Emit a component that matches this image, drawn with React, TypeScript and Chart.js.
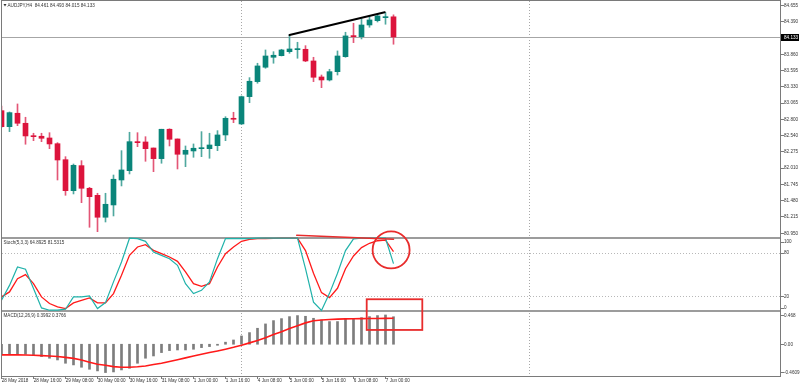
import React, { useEffect, useRef } from 'react';
import { Chart, registerables } from 'chart.js';

Chart.register(...registerables);

// ---------------- data ----------------
const symbolName = 'AUDJPY,H4';

const categories = [
  '28 May 00:00', '28 May 04:00', '28 May 08:00', '28 May 12:00', '28 May 16:00', '28 May 20:00',
  '29 May 00:00', '29 May 04:00', '29 May 08:00', '29 May 12:00', '29 May 16:00', '29 May 20:00',
  '30 May 00:00', '30 May 04:00', '30 May 08:00', '30 May 12:00', '30 May 16:00', '30 May 20:00',
  '31 May 00:00', '31 May 04:00', '31 May 08:00', '31 May 12:00', '31 May 16:00', '31 May 20:00',
  '1 Jun 00:00', '1 Jun 04:00', '1 Jun 08:00', '1 Jun 12:00', '1 Jun 16:00', '1 Jun 20:00',
  '4 Jun 00:00', '4 Jun 04:00', '4 Jun 08:00', '4 Jun 12:00', '4 Jun 16:00', '4 Jun 20:00',
  '5 Jun 00:00', '5 Jun 04:00', '5 Jun 08:00', '5 Jun 12:00', '5 Jun 16:00', '5 Jun 20:00',
  '6 Jun 00:00', '6 Jun 04:00', '6 Jun 08:00', '6 Jun 12:00', '6 Jun 16:00', '6 Jun 20:00',
  '7 Jun 00:00', '7 Jun 04:00',
];

const openValues = [
  82.935, 82.675, 82.893, 82.730, 82.528, 82.519, 82.491, 82.398, 82.138, 81.634,
  82.041, 81.673, 81.559, 81.202, 81.402, 81.808, 81.959, 82.431, 82.426, 82.328,
  82.155, 82.633, 82.475, 82.226, 82.280, 82.317, 82.317, 82.366, 82.540, 82.811,
  82.719, 83.163, 83.407, 83.641, 83.803, 83.829, 83.894, 83.927, 83.933, 83.743,
  83.483, 83.434, 83.569, 83.813, 84.155, 84.138, 84.328, 84.398, 84.447, 84.461,
];
const highValues = [
  83.011, 82.914, 83.044, 82.828, 82.568, 82.568, 82.577, 82.415, 82.187, 82.068,
  82.122, 81.689, 81.592, 81.592, 81.889, 82.285, 82.584, 82.577, 82.512, 82.328,
  82.633, 82.640, 82.475, 82.361, 82.394, 82.594, 82.568, 82.610, 82.837, 82.909,
  83.174, 83.472, 83.706, 83.922, 83.894, 83.933, 84.166, 84.047, 83.992, 83.803,
  83.515, 83.608, 83.906, 84.210, 84.356, 84.426, 84.463, 84.507, 84.528, 84.493,
];
const lowValues = [
  82.662, 82.594, 82.691, 82.389, 82.447, 82.431, 82.317, 81.808, 81.559, 81.581,
  81.439, 81.039, 80.968, 81.125, 81.223, 81.711, 81.906, 82.350, 82.112, 81.943,
  82.080, 82.361, 81.987, 82.024, 82.177, 82.187, 82.161, 82.285, 82.447, 82.740,
  82.710, 83.065, 83.381, 83.624, 83.706, 83.824, 83.868, 83.787, 83.732, 83.407,
  83.309, 83.418, 83.515, 83.803, 84.041, 84.101, 84.291, 84.377, 84.340, 84.015,
];
const closeValues = [
  82.675, 82.903, 82.730, 82.524, 82.512, 82.486, 82.394, 82.133, 81.634, 82.047,
  81.673, 81.537, 81.202, 81.413, 81.820, 81.971, 82.431, 82.415, 82.317, 82.155,
  82.633, 82.470, 82.226, 82.291, 82.324, 82.333, 82.377, 82.540, 82.811, 82.795,
  83.163, 83.413, 83.662, 83.824, 83.836, 83.922, 83.938, 83.938, 83.743, 83.478,
  83.434, 83.569, 83.824, 84.150, 84.138, 84.328, 84.410, 84.475, 84.461, 84.133,
];

const stochMain = [
  14.5, 35.0, 60.4, 57.2, 30.6, 4.0, 0.8, 0.8, 2.2, 19.1,
  19.1, 20.5, 3.1, 11.3, 39.8, 67.3, 100, 99.4, 95.7, 81.0,
  76.4, 71.8, 62.6, 37.4, 23.7, 28.2, 39.8, 71.8, 99.4, 99.4,
  99.4, 99.4, 100, 100, 100, 100, 100, 100, 58.0, 12.0,
  0.5, 24.0, 51.7, 83.0, 99.0, 100, 100, 100, 100, 64.8925,
];
const stochSignal = [
  19.1, 26.0, 44.3, 49.8, 37.4, 19.1, 10.0, 5.4, 3.1, 10.9,
  14.5, 17.8, 10.9, 10.9, 23.7, 48.9, 76.4, 87.9, 91.0, 83.3,
  78.7, 74.1, 68.1, 53.5, 37.4, 33.8, 37.4, 60.4, 78.7, 87.9,
  95.7, 98.4, 99.4, 99.6, 99.8, 100, 100, 100, 83.0, 51.7,
  25.0, 18.2, 31.0, 58.0, 75.5, 87.0, 93.0, 96.5, 97.3, 81.5315,
];

const macdHist = [
  -0.145, -0.145, -0.145, -0.145, -0.155, -0.179, -0.203, -0.228, -0.276, -0.300,
  -0.334, -0.363, -0.387, -0.411, -0.402, -0.373, -0.349, -0.276, -0.203, -0.170,
  -0.121, -0.092, -0.083, -0.083, -0.073, -0.049, -0.034, -0.015, 0.030, 0.062,
  0.120, 0.169, 0.232, 0.295, 0.343, 0.372, 0.401, 0.416, 0.406, 0.377,
  0.353, 0.329, 0.329, 0.367, 0.367, 0.386, 0.401, 0.416, 0.425, 0.3992,
];
const macdSignal = [
  -0.155, -0.155, -0.155, -0.157, -0.160, -0.165, -0.170, -0.178, -0.190, -0.205,
  -0.230, -0.260, -0.290, -0.305, -0.325, -0.334, -0.333, -0.327, -0.315, -0.295,
  -0.275, -0.250, -0.225, -0.198, -0.170, -0.145, -0.120, -0.097, -0.072, -0.045,
  -0.015, 0.020, 0.055, 0.095, 0.140, 0.180, 0.230, 0.270, 0.310, 0.340,
  0.352, 0.360, 0.365, 0.368, 0.370, 0.372, 0.373, 0.374, 0.375, 0.3766,
];

const xTickBars = [0, 4, 8, 12, 16, 20, 24, 28, 32, 36, 40, 44, 48];
const xTickLabels = [
  '28 May 2018', '28 May 16:00', '29 May 08:00', '30 May 00:00', '30 May 16:00',
  '31 May 08:00', '1 Jun 00:00', '1 Jun 16:00', '4 Jun 08:00', '5 Jun 00:00',
  '5 Jun 16:00', '6 Jun 08:00', '7 Jun 00:00',
];
const priceTicks = [84.655, 84.39, 83.86, 83.595, 83.33, 83.065, 82.8, 82.54, 82.275, 82.01, 81.745, 81.48, 81.215, 80.95];
const stochTicks = [100, 80, 20, 0];
const stochLevels = [80, 20];
const macdTicks = [0.468, 0, -0.4609];
const macdTickLabels = ['0.468', '0.00', '-0.4609'];
const periodSeparators = [30, 66];

// visible value ranges of the three panes
const priceRange = [80.881, 84.718];
const stochRange = [0, 100];
const macdRange = [-0.4609, 0.468];

// hand-drawn annotations (bar index, value)
const trendLinePoints = [[36, 84.166], [47.9, 84.535]];
const stochMarkLine = [[36.9, 104], [49, 98.5]];
const stochCircleCenter = [48.7, 83.8];
const macdBoxCorners = [[45.65, 0.653], [52.6, 0.2075]];

// ---------------- layout / style ----------------
const AREA = { left: 2, top: 1, right: 780, bottom: 376 };
const MAIN_BAND = { top: 1, bottom: 237 };
const STOCH_BAND = { top: 238.2, bottom: 310.8 };
const MACD_BAND = { top: 312, bottom: 376 };
const BAR_SPACING = 8;
const X_MIN = 0.0625;

const BULL = '#0a857a';
const BEAR = '#dc143c';
const BULL_WICK = '#4fa89f';
const BEAR_WICK = '#e35676';
const FONT = '4.6px "Liberation Sans", Arial, sans-serif';
const TEXT = '#333333';
const ANNOT_RED = '#e82c2c';

function fitScale(range: number[], band: { top: number; bottom: number }) {
  const [lo, hi] = range;
  const upp = (hi - lo) / (band.bottom - band.top);
  return { min: lo - (AREA.bottom - band.bottom) * upp, max: hi + (band.top - AREA.top) * upp };
}

const overlayPlugin = {
  id: 'mt4Overlay',
  beforeDatasetsDraw(chart: any) {
    const { ctx, scales } = chart;
    const xs = scales.x, yP = scales.yPrice, yS = scales.yStoch;
    ctx.save();
    ctx.lineWidth = 1;
    // stochastic levels
    ctx.strokeStyle = '#b8b8b8';
    ctx.setLineDash([1, 2]);
    for (const lv of stochLevels) {
      const y = Math.round(yS.getPixelForValue(lv)) + 0.5;
      ctx.beginPath(); ctx.moveTo(AREA.left, y); ctx.lineTo(AREA.right, y); ctx.stroke();
    }
    // period separators
    ctx.strokeStyle = '#a8a8a8';
    for (const b of periodSeparators) {
      const x = Math.round(xs.getPixelForValue(b) - 0.5) + 0.5;
      ctx.beginPath(); ctx.moveTo(x, AREA.top); ctx.lineTo(x, AREA.bottom); ctx.stroke();
    }
    ctx.setLineDash([]);
    // last price line
    const lp = closeValues[closeValues.length - 1];
    const py = Math.round(yP.getPixelForValue(lp)) + 0.5;
    ctx.strokeStyle = '#a6a6a6';
    ctx.beginPath(); ctx.moveTo(AREA.left, py); ctx.lineTo(AREA.right, py); ctx.stroke();
    // pane separators
    ctx.fillStyle = '#9c9c9c';
    ctx.fillRect(AREA.left, MAIN_BAND.bottom, AREA.right - AREA.left, 2);
    ctx.fillRect(AREA.left, STOCH_BAND.bottom - 0.8, AREA.right - AREA.left, 2);
    ctx.restore();
  },
  afterDatasetsDraw(chart: any) {
    const { ctx, scales } = chart;
    const xs = scales.x, yP = scales.yPrice, yS = scales.yStoch, yM = scales.yMacd;
    ctx.save();

    // annotations
    ctx.lineCap = 'round';
    ctx.strokeStyle = '#000000';
    ctx.lineWidth = 2;
    ctx.beginPath();
    ctx.moveTo(xs.getPixelForValue(trendLinePoints[0][0]), yP.getPixelForValue(trendLinePoints[0][1]));
    ctx.lineTo(xs.getPixelForValue(trendLinePoints[1][0]), yP.getPixelForValue(trendLinePoints[1][1]));
    ctx.stroke();

    ctx.strokeStyle = ANNOT_RED;
    ctx.lineWidth = 1.5;
    ctx.beginPath();
    ctx.moveTo(xs.getPixelForValue(stochMarkLine[0][0]), yS.getPixelForValue(stochMarkLine[0][1]));
    ctx.lineTo(xs.getPixelForValue(stochMarkLine[1][0]), yS.getPixelForValue(stochMarkLine[1][1]));
    ctx.stroke();

    ctx.lineWidth = 1.8;
    ctx.beginPath();
    ctx.arc(xs.getPixelForValue(stochCircleCenter[0]), yS.getPixelForValue(stochCircleCenter[1]), 18.5, 0, Math.PI * 2);
    ctx.stroke();

    const bx1 = xs.getPixelForValue(macdBoxCorners[0][0]);
    const by1 = yM.getPixelForValue(macdBoxCorners[0][1]);
    const bx2 = xs.getPixelForValue(macdBoxCorners[1][0]);
    const by2 = yM.getPixelForValue(macdBoxCorners[1][1]);
    ctx.lineWidth = 1.8;
    ctx.strokeRect(bx1, by1, bx2 - bx1, by2 - by1);

    // frame
    ctx.fillStyle = '#7a7a7a';
    ctx.fillRect(AREA.left - 1, 0, AREA.right - AREA.left + 1, 1);
    ctx.fillRect(AREA.left - 1, 0, 1, AREA.bottom + 1);
    ctx.fillRect(AREA.right, 0, 1, AREA.bottom + 1);
    ctx.fillRect(AREA.left - 1, AREA.bottom, AREA.right - AREA.left + 2, 1);

    // right axis labels
    ctx.font = FONT;
    ctx.textBaseline = 'middle';
    ctx.textAlign = 'left';
    const lx = AREA.right + 4;
    const drawTick = (y: number, label: string) => {
      ctx.fillStyle = '#7a7a7a';
      ctx.fillRect(AREA.right + 1, Math.round(y), 3, 1);
      ctx.fillStyle = TEXT;
      ctx.fillText(label, lx, y + 0.5);
    };
    for (const v of priceTicks) drawTick(yP.getPixelForValue(v), v.toFixed(3));
    for (const v of stochTicks) {
      const y = Math.min(Math.max(yS.getPixelForValue(v), STOCH_BAND.top + 3.3), STOCH_BAND.bottom - 3.3);
      drawTick(y, String(v));
    }
    macdTicks.forEach((v, i) => {
      const y = Math.min(Math.max(yM.getPixelForValue(v), MACD_BAND.top + 3.3), MACD_BAND.bottom - 3.8);
      drawTick(y, macdTickLabels[i]);
    });
    // last price tag
    const lp = closeValues[closeValues.length - 1];
    const lpy = yP.getPixelForValue(lp);
    ctx.fillStyle = '#000000';
    ctx.fillRect(AREA.right + 1, Math.round(lpy) - 3, 18, 7);
    ctx.fillStyle = '#ffffff';
    ctx.fillText(lp.toFixed(3), lx, lpy + 0.5);

    // bottom axis labels
    ctx.fillStyle = TEXT;
    xTickBars.forEach((b, i) => {
      const x = xs.getPixelForValue(b);
      ctx.fillStyle = '#7a7a7a';
      ctx.fillRect(Math.floor(x), AREA.bottom + 1, 1, 2);
      ctx.fillStyle = TEXT;
      ctx.fillText(xTickLabels[i], x + 0.3, AREA.bottom + 5);
    });

    // window captions
    const last = closeValues.length - 1;
    ctx.fillStyle = TEXT;
    ctx.beginPath();
    ctx.moveTo(3.5, 4); ctx.lineTo(6.5, 4); ctx.lineTo(5, 6.5); ctx.closePath(); ctx.fill();
    ctx.fillText(
      `${symbolName}  ${openValues[last].toFixed(3)} ${highValues[last].toFixed(3)} ${lowValues[last].toFixed(3)} ${closeValues[last].toFixed(3)}`,
      7.5, 5.5,
    );
    ctx.fillText(`Stoch(5,3,3) ${stochMain[last].toFixed(4)} ${stochSignal[last].toFixed(4)}`, 3.5, STOCH_BAND.top + 4.5);
    ctx.fillText(`MACD(12,26,9) ${macdHist[last].toFixed(4)} ${macdSignal[last].toFixed(4)}`, 3.5, MACD_BAND.top + 4);

    ctx.restore();
  },
};

export default function App() {
  const ref = useRef<HTMLCanvasElement | null>(null);

  useEffect(() => {
    if (!ref.current) return;
    const idx = categories.map((_, i) => i);
    const bull = idx.map((i) => closeValues[i] >= openValues[i]);

    const priceScale = fitScale(priceRange, MAIN_BAND);
    const stochScale = fitScale(stochRange, STOCH_BAND);
    const macdScale = fitScale(macdRange, MACD_BAND);

    const chart = new Chart(ref.current, {
      type: 'bar',
      data: {
        datasets: [
          {
            type: 'bar',
            label: 'body',
            data: idx.map((i) => ({ x: i, y: [openValues[i], closeValues[i]] })) as any,
            backgroundColor: idx.map((i) => (bull[i] ? BULL : BEAR)),
            borderWidth: 0,
            barThickness: 5,
            minBarLength: 1,
            grouped: false,
            yAxisID: 'yPrice',
            order: 1,
          },
          {
            type: 'bar',
            label: 'wick',
            data: idx.map((i) => ({ x: i, y: [lowValues[i], highValues[i]] })) as any,
            backgroundColor: idx.map((i) => (bull[i] ? BULL_WICK : BEAR_WICK)),
            borderWidth: 0,
            barThickness: 1,
            grouped: false,
            yAxisID: 'yPrice',
            order: 2,
          },
          {
            type: 'line',
            label: 'stochMain',
            data: idx.map((i) => ({ x: i, y: stochMain[i] })),
            borderColor: '#20b2aa',
            borderWidth: 1.2,
            pointRadius: 0,
            tension: 0,
            yAxisID: 'yStoch',
            order: 0,
          },
          {
            type: 'line',
            label: 'stochSignal',
            data: idx.map((i) => ({ x: i, y: stochSignal[i] })),
            borderColor: '#ff1a1a',
            borderWidth: 1.3,
            pointRadius: 0,
            tension: 0,
            yAxisID: 'yStoch',
            order: 0,
          },
          {
            type: 'bar',
            label: 'macd',
            data: idx.map((i) => ({ x: i, y: macdHist[i] })) as any,
            backgroundColor: '#7d7d7d',
            borderWidth: 0,
            barThickness: 2,
            grouped: false,
            yAxisID: 'yMacd',
            order: 3,
          },
          {
            type: 'line',
            label: 'macdSignal',
            data: idx.map((i) => ({ x: i, y: macdSignal[i] })),
            borderColor: '#ff1a1a',
            borderWidth: 1.6,
            pointRadius: 0,
            tension: 0,
            yAxisID: 'yMacd',
            order: 0,
          },
        ],
      },
      options: {
        animation: false,
        responsive: false,
        maintainAspectRatio: false,
        events: [],
        layout: { padding: { left: AREA.left, top: AREA.top, right: 800 - AREA.right, bottom: 386 - AREA.bottom } },
        plugins: { legend: { display: false }, tooltip: { enabled: false }, title: { display: false } },
        scales: {
          x: {
            type: 'linear',
            display: false,
            offset: false,
            min: X_MIN,
            max: X_MIN + (AREA.right - AREA.left) / BAR_SPACING,
          },
          yPrice: { type: 'linear', display: false, min: priceScale.min, max: priceScale.max, beginAtZero: false },
          yStoch: { type: 'linear', display: false, min: stochScale.min, max: stochScale.max, beginAtZero: false },
          yMacd: { type: 'linear', display: false, min: macdScale.min, max: macdScale.max, beginAtZero: false },
        },
      } as any,
      plugins: [overlayPlugin],
    });
    return () => chart.destroy();
  }, []);

  return (
    <div style={{ position: 'fixed', left: 0, top: 0, width: 800, height: 386, background: '#ffffff' }}>
      <canvas ref={ref} width={800} height={386} style={{ display: 'block', width: 800, height: 386 }} />
    </div>
  );
}
